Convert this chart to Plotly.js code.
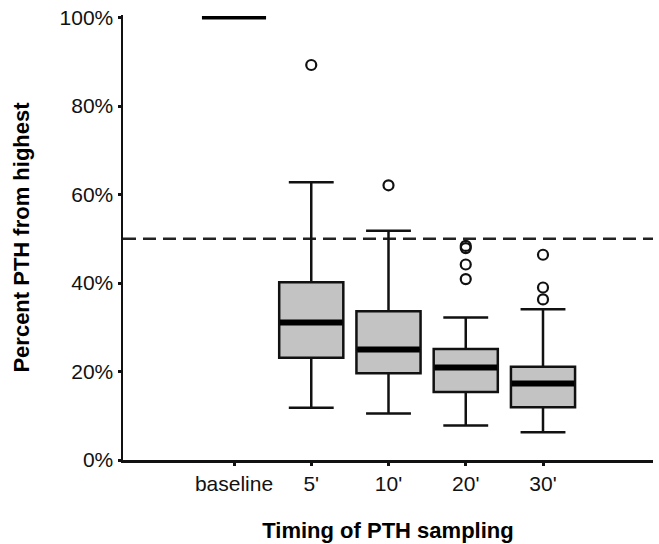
<!DOCTYPE html>
<html>
<head>
<meta charset="utf-8">
<script src="https://cdn.plot.ly/plotly-3.0.1.min.js"></script>
<style>html,body{margin:0;padding:0;background:#fff;}#chart{width:659px;height:544px;}</style>
</head>
<body>
<div id="chart"></div>
<script>
// Categories
const categories = ["baseline", "5'", "10'", "20'", "30'"];
// Baseline (all values at 100%)
const baselineCat = ["baseline"];
const baselineValue = [100];
// Box statistics for post-excision samples (percent of highest PTH)
const boxCats = ["5'", "10'", "20'", "30'"];
const lowerWhisker = [11.8, 10.5, 7.8, 6.3];
const q1 = [23.1, 19.6, 15.4, 11.9];
const median = [31.1, 25.0, 20.9, 17.3];
const q3 = [40.2, 33.6, 25.1, 21.1];
const upperWhisker = [62.8, 51.8, 32.2, 34.1];
// Outliers
const outlierCats = ["5'", "10'", "20'", "20'", "20'", "20'", "30'", "30'", "30'"];
const outlierValues = [89.3, 62.1, 48.4, 47.9, 44.2, 40.9, 46.4, 39.0, 36.3];
// Reference threshold
const threshold = 50;
const yTicks = [0, 20, 40, 60, 80, 100];
const yTickText = ["0%", "20%", "40%", "60%", "80%", "100%"];

const BOXW = 0.83;
const font = "Liberation Sans, Arial, sans-serif";

const traces = [
  {
    type: "box", x: boxCats,
    q1: q1, median: median, q3: q3,
    lowerfence: lowerWhisker, upperfence: upperWhisker,
    width: BOXW, whiskerwidth: 0.7,
    fillcolor: "#c3c3c3",
    line: {color: "#111", width: 2.5},
    boxpoints: false, hoverinfo: "skip", showlegend: false
  },
  {
    type: "box", x: boxCats,
    q1: median, median: median, q3: median,
    lowerfence: median, upperfence: median,
    width: BOXW - 0.02, whiskerwidth: 0,
    fillcolor: "rgba(0,0,0,0)",
    line: {color: "#000", width: 6},
    boxpoints: false, hoverinfo: "skip", showlegend: false
  },
  {
    type: "box", x: baselineCat,
    q1: baselineValue, median: baselineValue, q3: baselineValue,
    lowerfence: baselineValue, upperfence: baselineValue,
    width: BOXW, whiskerwidth: 0,
    fillcolor: "rgba(0,0,0,0)",
    line: {color: "#000", width: 3.5},
    boxpoints: false, hoverinfo: "skip", showlegend: false
  },
  {
    type: "scatter", mode: "markers", x: outlierCats, y: outlierValues,
    marker: {symbol: "circle-open", size: 10, color: "#111", line: {width: 2.2, color: "#111"}},
    hoverinfo: "skip", showlegend: false, cliponaxis: false
  }
];

const layout = {
  width: 659, height: 544,
  margin: {l: 123, r: 6, t: 15, b: 84},
  paper_bgcolor: "#fff", plot_bgcolor: "#fff",
  boxmode: "overlay",
  showlegend: false,
  font: {family: font, color: "#111", size: 21},
  xaxis: {
    type: "category", categoryorder: "array", categoryarray: categories,
    range: [-1.437, 5.424],
    showgrid: false, zeroline: false,
    showline: true, linecolor: "#111", linewidth: 2.5,
    ticks: "outside", ticklen: 3, tickwidth: 3, tickcolor: "#111",
    tickfont: {family: font, size: 21, color: "#111"},
    title: {text: "Timing of PTH sampling", font: {family: font, size: 22, color: "#000", weight: "bold"}, standoff: 29},
    automargin: false
  },
  yaxis: {
    range: [0, 100.6],
    tickvals: yTicks, ticktext: yTickText,
    showgrid: false, zeroline: false,
    showline: true, linecolor: "#111", linewidth: 2.5,
    ticks: "outside", ticklen: 3, tickwidth: 3, tickcolor: "#111",
    tickfont: {family: font, size: 21, color: "#111"},
    title: {text: "Percent PTH from highest", font: {family: font, size: 22, color: "#000", weight: "bold"}, standoff: 24},
    automargin: false
  },
  shapes: [{
    type: "line", xref: "paper", x0: 0, x1: 1, yref: "y", y0: threshold, y1: threshold,
    line: {color: "#222", width: 2.5, dash: "13px,7px"}, layer: "below"
  }]
};

Plotly.newPlot("chart", traces, layout, {displayModeBar: false, staticPlot: true});
</script>
</body>
</html>
